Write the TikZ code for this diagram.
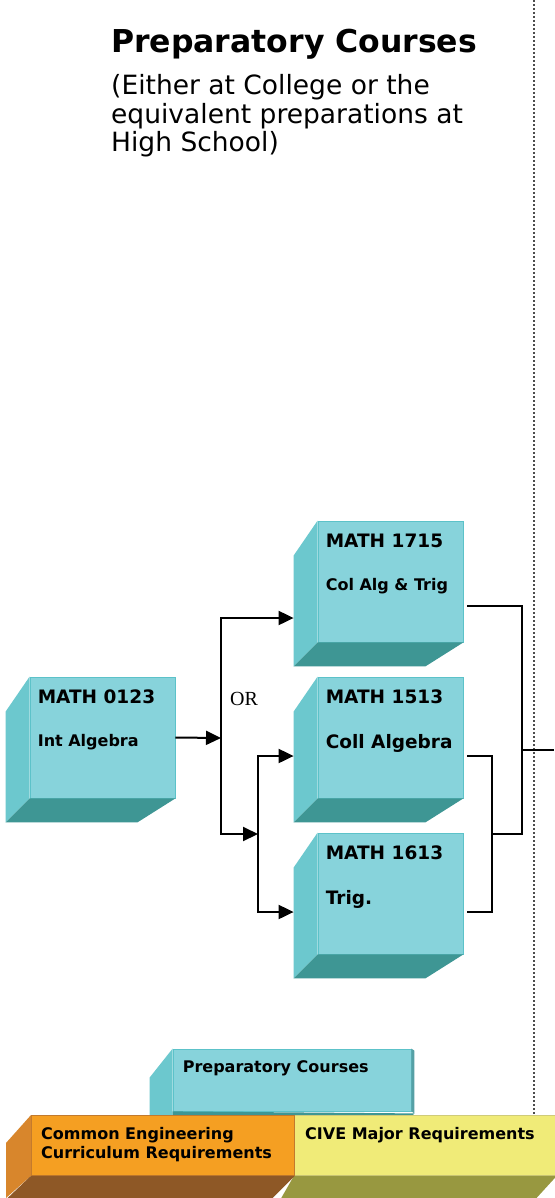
\documentclass[tikz,border=0pt]{standalone}
\usepackage{fontspec}
\setmainfont{DejaVu Sans}
\newfontfamily\orfont{Liberation Serif}
\usetikzlibrary{arrows.meta,positioning,calc}
\definecolor{CubeFront}{HTML}{87D3DB}
\definecolor{CubeSide}{HTML}{6CC8CE}
\definecolor{CubeBottom}{HTML}{3E9694}
\definecolor{CubeEdge}{HTML}{5CC2C9}
\definecolor{CoreFront}{HTML}{F59F22}
\definecolor{CoreSide}{HTML}{D8862C}
\definecolor{CoreBottom}{HTML}{8E5826}
\definecolor{CoreEdge}{HTML}{C27A2E}
\definecolor{MajorFront}{HTML}{F0EB78}
\definecolor{MajorSide}{HTML}{D9D868}
\definecolor{MajorBottom}{HTML}{989840}
\definecolor{MajorEdge}{HTML}{CFCB7A}
\tikzset{
    % course cubes, front face only
    coursebox/.style={
        rectangle,
        draw=CubeEdge,
        fill=CubeFront,
        line width=0.8pt,
        minimum width=145pt,
        minimum height=121pt,
        inner sep=0pt
    },
    codetext/.style={
        anchor=base west,
        inner sep=0pt,
        font=\bfseries\fontsize{18.5}{20}\selectfont
    },
    nametext/.style={
        anchor=base west,
        inner sep=0pt,
        font=\bfseries\fontsize{16}{19}\selectfont
    },
    sideface/.style={fill=CubeSide},
    bottomface/.style={fill=CubeBottom},
    link/.style={
        line width=2pt,
        color=black
    },
    linkarrow/.style={
        link,
        -{Triangle[length=15pt,width=14pt]}
    },
    divider/.style={
        line width=2pt,
        draw=black!70,
        dash pattern=on 2pt off 2pt
    }
}
\begin{document}
\begin{tikzpicture}[x=1pt,y=-1pt]
    \useasboundingbox (0,0) rectangle (554,1198);
    \fill[white] (0,0) rectangle (554,1198);

    % heading
    \node[anchor=base west, inner sep=0pt, font=\bfseries\fontsize{31.5}{34}\selectfont] (title) at (111,53) {Preparatory Courses};
    \node[anchor=base west, inner sep=0pt, align=left, font=\fontsize{26.5}{28.5}\selectfont] (subtitle) at (111,152)
        {(Either at College or the\\equivalent preparations at\\High School)};

    % separator
    \coordinate (divtop) at (533.5,0);
    \coordinate (divbot) at (533.5,1114);
    \draw[divider] (divtop) -- (divbot);

    % courses
    \node[coursebox] (math0123) at (102.5,737.5) {};
    \node[coursebox] (math1715) at (390.5,581.5) {};
    \node[coursebox] (math1513) at (390.5,737.5) {};
    \node[coursebox] (math1613) at (390.5,893.5) {};
    \foreach \c in {math0123,math1715,math1513,math1613}{
        \fill[sideface] (\c.north west) -- ++(-24,35) -- ($(\c.south west)+(-24,24)$) -- (\c.south west) -- cycle;
        \fill[bottomface] (\c.south west) -- (\c.south east) -- ++(-38,24) -- ($(\c.south west)+(-24,24)$) -- cycle;
    }

    \node[codetext] (code0123) at ($(math0123.north west)+(8,27)$) {MATH 0123};
    \node[nametext] (name0123) at ($(math0123.north west)+(8,70)$) {Int Algebra};
    \node[codetext] (code1715) at ($(math1715.north west)+(8,27)$) {MATH 1715};
    \node[nametext] (name1715) at ($(math1715.north west)+(8,70)$) {Col Alg \& Trig};
    \node[codetext] (code1513) at ($(math1513.north west)+(8,27)$) {MATH 1513};
    \node[codetext] (name1513) at ($(math1513.north west)+(8,72)$) {Coll Algebra};
    \node[codetext] (code1613) at ($(math1613.north west)+(8,27)$) {MATH 1613};
    \node[codetext] (name1613) at ($(math1613.north west)+(8,72)$) {Trig.};

    \node[anchor=base west, inner sep=0pt, font=\orfont\fontsize{20}{21}\selectfont] (orlabel) at (230,705) {OR};

    % prerequisite links
    \coordinate (fork1) at (221,738);
    \coordinate (fork2) at (258,834);
    \draw[linkarrow] (math0123.east) -- (fork1);
    \draw[linkarrow] (fork1) |- ($(math1715.west)+(-24,36.5)$);
    \draw[linkarrow] (fork1) |- (fork2);
    \draw[linkarrow] (fork2) |- ($(math1513.west)+(-24,18.5)$);
    \draw[linkarrow] (fork2) |- ($(math1613.west)+(-24,18.5)$);

    \coordinate (join1) at (522,750);
    \coordinate (join2) at (492,834);
    \coordinate (exit) at (554,750);
    \draw[link] ($(math1513.east)+(4,18.5)$) -| (join2) |- ($(math1613.east)+(4,18.5)$);
    \draw[link] ($(math1715.east)+(4,24.5)$) -| (join1) |- (join2);
    \draw[link] (join1) -- (exit);

    % legend
    \node[rectangle, fill=CubeFront, draw=CubeEdge, line width=0.8pt, minimum width=238pt, minimum height=62pt, inner sep=0pt] (keyprep) at (292,1080) {};
    \fill[sideface] (keyprep.north west) -- ++(-23,29) -- ++(0,40) -- ($(keyprep.south west)+(0,6)$) -- cycle;
    \fill[CubeSide!80!black] (keyprep.north east) -- ++(3,2) -- ($(keyprep.south east)+(3,2)$) -- (keyprep.south east) -- cycle;
    \fill[bottomface] (keyprep.south west) -- ($(keyprep.south east)+(3,2)$) -- ++(-3,3) -- ($(keyprep.south west)+(0,4)$) -- cycle;
    \node[nametext] (keypreptext) at ($(keyprep.north west)+(10,24)$) {Preparatory Courses};

    \node[rectangle, fill=MajorFront, draw=MajorEdge, line width=0.8pt, minimum width=262pt, minimum height=60pt, inner sep=0pt, anchor=north west] (keymajor) at (294,1115) {};
    \fill[MajorSide] (keymajor.north west) -- ++(-24,35) -- ++(0,48) -- (keymajor.south west) -- cycle;
    \fill[MajorBottom] (keymajor.south west) -- (keymajor.south east) -- ++(-21,23) -- ++(-255,0) -- cycle;
    \node[nametext] (keymajortext) at ($(keymajor.north west)+(11,24)$) {CIVE Major Requirements};

    \node[rectangle, fill=CoreFront, draw=CoreEdge, line width=0.8pt, minimum width=263pt, minimum height=60pt, inner sep=0pt, anchor=north west] (keycore) at (31,1115) {};
    \fill[CoreSide] (keycore.north west) -- ++(-25,28) -- ++(0,55) -- (keycore.south west) -- cycle;
    \fill[CoreBottom] (keycore.south west) -- (keycore.south east) -- ++(-23,23) -- ++(-265,0) -- cycle;
    \node[nametext, align=left, font=\bfseries\fontsize{16}{19}\selectfont] (keycoretext) at ($(keycore.north west)+(10,43)$)
        {Common Engineering\\Curriculum Requirements};
\end{tikzpicture}
\end{document}
